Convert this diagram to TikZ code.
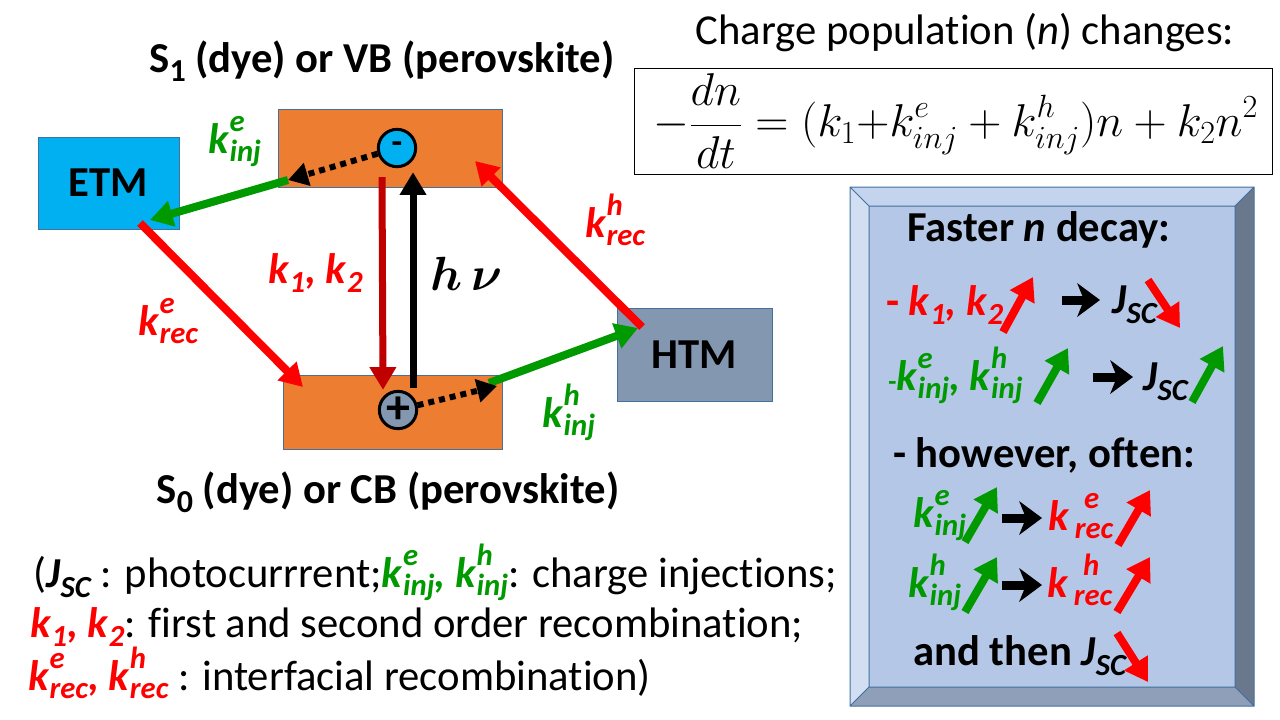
\RequirePackage{fix-cm}
\documentclass[tikz,border=0pt]{standalone}
\usepackage{amsmath}
\usepackage[no-math]{fontspec}
\setmainfont[Ligatures=NoCommon]{Carlito}
\usepackage{tikz}
\usetikzlibrary{arrows.meta,positioning}

\definecolor{orng}{HTML}{ED7D31}
\definecolor{edge}{HTML}{41719C}
\definecolor{etmblue}{HTML}{00B0F0}
\definecolor{htmgray}{HTML}{8497B0}
\definecolor{grn}{HTML}{009900}
\definecolor{dred}{HTML}{C00000}
\definecolor{boxface}{HTML}{B4C7E7}
\definecolor{bevtop}{HTML}{C4D3EE}
\definecolor{bevleft}{HTML}{D2DEF2}
\definecolor{bevright}{HTML}{6A788E}
\definecolor{bevbot}{HTML}{8F9EB9}

\newcommand{\slidesize}{\fontsize{32}{38}\selectfont}
\newcommand{\scr}{\fontsize{23}{23}\selectfont\bfseries\itshape}
\newcommand{\stk}[2]{\rlap{\raisebox{16pt}{\scr #1}}\raisebox{-6pt}{\scr #2}}
\newcommand{\kk}[3][0pt]{\textbf{\textit{k}}\kern#1\stk{#2}{#3}}
\newcommand{\ksub}[1]{\textbf{\textit{k}}\raisebox{-7pt}{\scr #1}}
\newcommand{\jsc}{\textbf{\textit{J}}\raisebox{-7.5pt}{\scr SC}}
\newcommand{\cma}{\textbf{\textit{,}}}

\begin{document}
\begin{tikzpicture}[x=0.75pt, y=-0.75pt, every node/.style={inner sep=0pt, font=\slidesize},
        band/.style={draw=edge, fill=orng, line width=0.75pt},
        layer/.style={draw=edge, line width=0.75pt, font=\slidesize\bfseries},
        charge/.style={circle, draw=black, line width=2.25pt, minimum size=28pt},
        fat/.style={line width=6pt, -{Triangle[length=17pt,width=19pt]}},
        dots/.style={line width=4.5pt, dash pattern=on 4.5pt off 3.75pt, -{Triangle[length=15pt,width=17pt]}},
        tick/.style={line width=6pt, -{Triangle[length=17pt,width=20pt]}},
        push/.style={line width=6.75pt, -{Stealth[length=17pt,width=25pt,inset=5pt]}},
        lbl/.style={anchor=base west},
        bold/.style={anchor=base west, font=\slidesize\bfseries}]
    \useasboundingbox (0,0) rectangle (1280,719);

    \node[band, minimum width=168pt, minimum height=58.5pt] (vb) at (390,148) {};
    \node[band, minimum width=164.25pt, minimum height=55.5pt] (cb) at (392.5,412) {};
    \node[layer, fill=etmblue, minimum width=105.75pt, minimum height=69pt] (etm) at (108.5,183) {ETM};
    \node[layer, fill=htmgray, minimum width=116.25pt, minimum height=69.75pt] (htm) at (694.5,354.5) {HTM};
    \node[charge, fill=etmblue, font=\fontsize{26}{26}\selectfont\bfseries] (minus) at (397,148) {-};
    \node[charge, fill=htmgray, font=\fontsize{36}{36}\selectfont\bfseries] (plus) at (398,410) {+};

    \coordinate (vbL) at (288,180);
    \coordinate (etmIn) at (150,220);
    \coordinate (etmOut) at (140,223);
    \coordinate (cbIn) at (303,387);
    \coordinate (cbTip) at (497,386);
    \coordinate (cbR) at (489,383);
    \coordinate (htmIn) at (638,328);
    \coordinate (htmOut) at (642,327);
    \coordinate (vbIn) at (475,161);

    \draw[fat, grn] (vbL) -- (etmIn);
    \draw[dots] (minus) -- (vbL);
    \draw[fat, red] (etmOut) -- (cbIn);
    \draw[fat, grn] (cbR) -- (htmIn);
    \draw[dots] (plus) -- (cbTip);
    \draw[fat, red] (htmOut) -- (vbIn);
    \draw[fat, dred, line width=5.25pt] ([shift={(-15,9)}]minus.south) -- ([xshift=-11.25pt]plus.north);
    \draw[fat, black, line width=5.25pt] ([shift={(15,-2)}]plus.north) -- ([shift={(16,4)}]minus.south);

    \node[font=\slidesize\bfseries, anchor=base] (vbtitle) at (382,72) {S\raisebox{-7pt}{\fontsize{24}{24}\selectfont 1} (dye) or VB (perovskite)};
    \node[font=\slidesize\bfseries, anchor=base] (cbtitle) at (388,503) {S\raisebox{-7pt}{\fontsize{24}{24}\selectfont 0} (dye) or CB (perovskite)};
    \node[lbl, text=grn] (kie) at (208,153) {\kk{e}{inj}};
    \node[lbl, text=red] (kre) at (138,335) {\kk{e}{rec}};
    \node[lbl, text=red] (k12) at (268,283) {\ksub{1}\cma{} \ksub{2}};
    \node[lbl, font=\fontsize{36}{40}\selectfont] (hv) at (430,290) {$\boldsymbol{h\,\nu}$};
    \node[lbl, text=red] (krh) at (585,237) {\kk{h}{rec}};
    \node[lbl, text=grn] (kih) at (542,427) {\kk{h}{inj}};

    \node[anchor=base] (popu) at (965,44) {Charge population (\textit{n}) changes:};
    \node[draw, line width=0.75pt, minimum width=478.5pt, minimum height=79.5pt, font=\fontsize{34.5}{40}\selectfont] (eq) at (953,121)
        {\kern4pt$\displaystyle -\frac{dn}{dt} = (k_1{+}k^e_{inj} + k^h_{inj})n + k_2n^2$};

    \node[lbl] (leg1) at (33,587) {(\jsc{} : photocurrrent;\textcolor{grn}{\kk{e}{inj}\cma{} \kk{h}{inj}}: charge injections;};
    \node[lbl] (leg2) at (30,637) {\textcolor{red}{\ksub{1}\cma{} \ksub{2}}: first and second order recombination;};
    \node[lbl] (leg3) at (28,690) {\textcolor{red}{\kk{e}{rec}\cma{} \kk{h}{rec}} : interfacial recombination)};

    \fill[bevtop] (850,187) -- (1254,187) -- (1235,206) -- (869,206) -- cycle;
    \fill[bevleft] (850,187) -- (869,206) -- (869,687) -- (850,706) -- cycle;
    \fill[bevright] (1254,187) -- (1254,706) -- (1235,687) -- (1235,206) -- cycle;
    \fill[bevbot] (850,706) -- (1254,706) -- (1235,687) -- (869,687) -- cycle;
    \fill[boxface] (869,206) rectangle (1235,687);
    \draw[edge, line width=0.75pt] (850,187) rectangle (1254,706) (869,206) rectangle (1235,687)
        (850,187) -- (869,206) (1254,187) -- (1235,206) (850,706) -- (869,687) (1254,706) -- (1235,687);

    \node[bold] (faster) at (907,241) {Faster \textit{n} decay:};
    \node[bold, text=red] (row1) at (886,315) {- \ksub{1}\cma{} \ksub{2}};
    \draw[tick, red] (1003,332) -- (1033,277);
    \draw[push] (1062,300) -- (1100,300);
    \node[lbl] (j1) at (1112,313) {\jsc};
    \draw[tick, red] (1148,280) -- (1180,328);
    \node[lbl, text=grn] (row2) at (888,390) {{\fontsize{20}{20}\selectfont\bfseries -}\kk{e}{inj}\cma{} \kk{h}{inj}};
    \draw[tick, grn] (1037,403) -- (1068,348);
    \draw[push] (1093,377) -- (1133,377);
    \node[lbl] (j2) at (1143,390) {\jsc};
    \draw[tick, grn] (1192,402) -- (1223,346);
    \node[bold] (however) at (893,467) {- however, often:};
    \node[lbl, text=grn] (row3) at (913,527) {\kk{e}{inj}};
    \draw[tick, grn] (965,542) -- (997,487);
    \draw[push] (1002,518) -- (1042,518);
    \node[lbl, text=red] (row3r) at (1048,530) {\kk[4pt]{\kern7pt e}{rec}};
    \draw[tick, red] (1118,545) -- (1150,490);
    \node[lbl, text=grn] (row4) at (908,597) {\kk{h}{inj}};
    \draw[tick, grn] (965,612) -- (997,557);
    \draw[push] (1002,585) -- (1042,585);
    \node[lbl, text=red] (row4r) at (1047,597) {\kk[4pt]{\kern7pt h}{rec}};
    \draw[tick, red] (1117,612) -- (1150,557);
    \node[bold] (andthen) at (913,665) {and then \jsc};
    \draw[tick, red] (1117,633) -- (1148,682);
\end{tikzpicture}
\end{document}
